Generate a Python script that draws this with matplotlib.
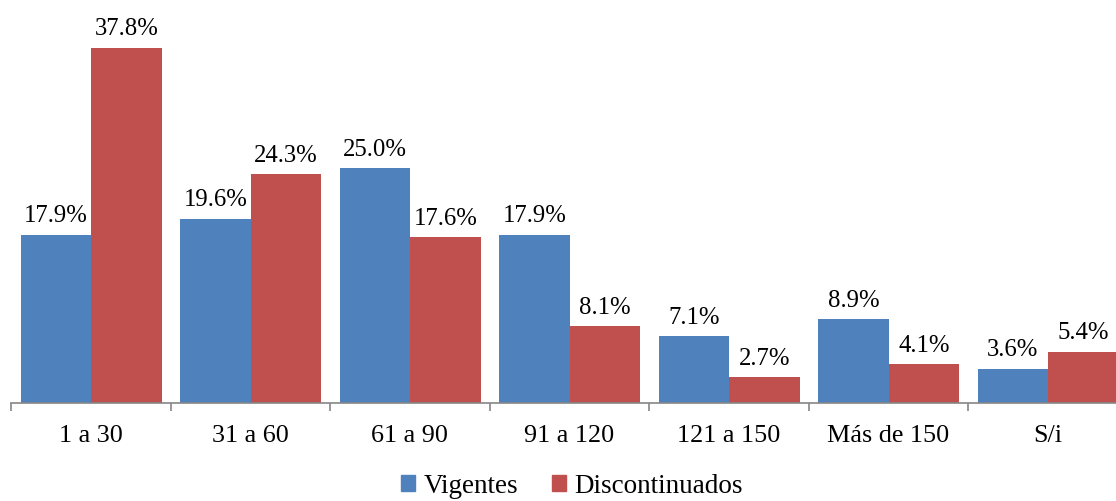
import matplotlib
matplotlib.use("Agg")
import matplotlib.pyplot as plt
from matplotlib.patches import Patch
import numpy as np

categories = ["1 a 30", "31 a 60", "61 a 90", "91 a 120", "121 a 150", "Más de 150", "S/i"]
vigentes = [17.9, 19.6, 25.0, 17.9, 7.1, 8.9, 3.6]
discontinuados = [37.8, 24.3, 17.6, 8.1, 2.7, 4.1, 5.4]
series_names = ["Vigentes", "Discontinuados"]

plt.rcParams['font.family'] = ['Liberation Serif', 'DejaVu Serif']

blue = "#4F81BD"
red = "#C0504D"

fig = plt.figure(figsize=(11.16, 5.02), dpi=100)
ax = fig.add_axes([11/1116, 1 - 403.5/502, 7*159.5/1116, 403.5/502])

n = len(categories)
x = np.arange(n)
w = 0.443
off = 0.06
b1 = ax.bar(x - 0.5 + off, vigentes, width=w, align='edge', color=blue)
b2 = ax.bar(x - 0.5 + off + w, discontinuados, width=w, align='edge', color=red)

for bars, vals in ((b1, vigentes), (b2, discontinuados)):
    for r, v in zip(bars, vals):
        ax.annotate(f"{v:.1f}%", (r.get_x() + r.get_width()/2, v),
                    xytext=(0, 6.0), textcoords='offset points',
                    ha='center', va='bottom', fontsize=17.8, color='black')

ax.set_xlim(-0.5, n - 0.5)
ax.set_ylim(0, 43.0)
ax.set_yticks([])
for s in ['top', 'right', 'left']:
    ax.spines[s].set_visible(False)
ax.spines['bottom'].set_color('#868686')
ax.spines['bottom'].set_linewidth(1.2)

ax.set_xticks(np.arange(n + 1) - 0.5)
ax.set_xticklabels([])
ax.tick_params(axis='x', which='major', length=6, color='#868686', width=1.2)
ax.set_xticks(x, minor=True)
ax.set_xticklabels(categories, minor=True, fontsize=18.8)
ax.tick_params(axis='x', which='minor', length=0, pad=15.5)

handles = [Patch(color=blue, label=series_names[0]), Patch(color=red, label=series_names[1])]
fig.legend(handles=handles, loc='center', bbox_to_anchor=(572/1116, 1 - 487/502),
           ncol=2, frameon=False, fontsize=19.5, handlelength=0.52, handleheight=0.52,
           handletextpad=0.3, columnspacing=1.25, borderpad=0, borderaxespad=0)

fig.savefig("out.png", dpi=100)
